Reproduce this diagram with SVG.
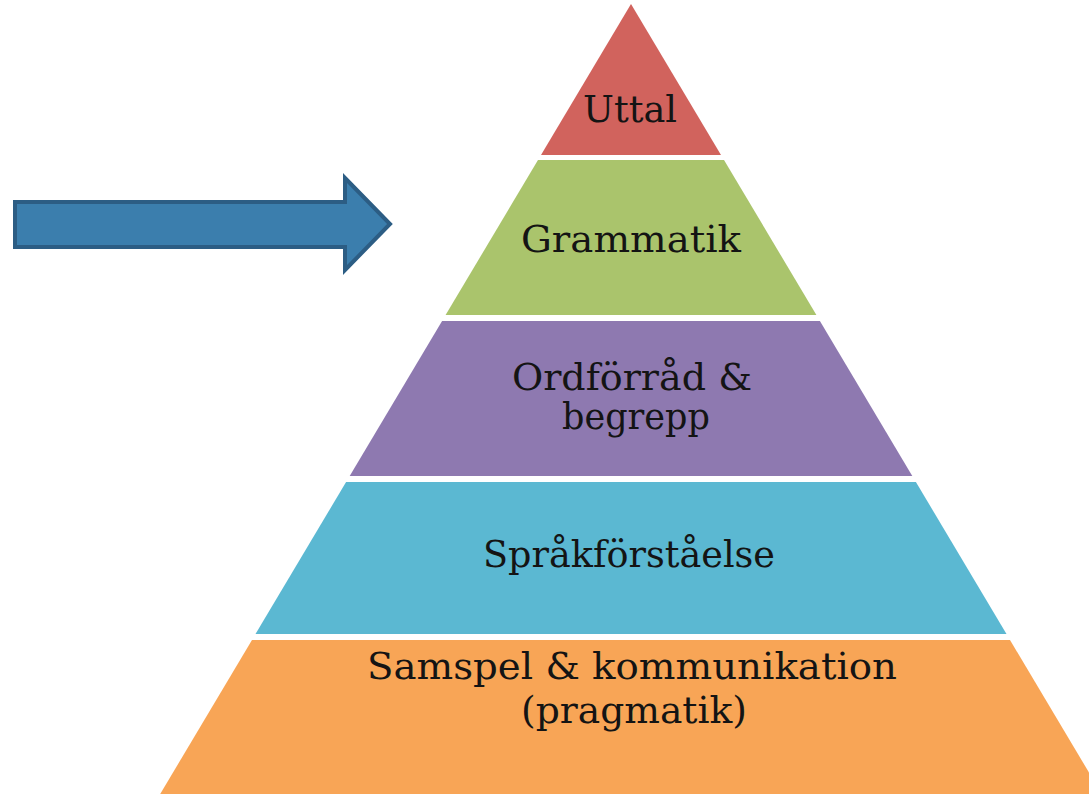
<svg xmlns="http://www.w3.org/2000/svg" width="1089" height="794" viewBox="0 0 1089 794">
<style>
.lbl{font-family:"DejaVu Serif","Liberation Serif",serif;font-size:37px;fill:#141414;text-anchor:middle}
</style>
<rect x="0" y="0" width="1089" height="794" fill="#ffffff"/>
<g id="uttal">
<polygon points="631,4 721,155 541,155" fill="#D1635D"/>
<text class="lbl" x="630" y="122" textLength="94" lengthAdjust="spacingAndGlyphs">Uttal</text>
</g>
<g id="grammatik">
<polygon points="538,160 724,160 816.4,315 445.6,315" fill="#AAC46C"/>
<text class="lbl" x="631" y="252" textLength="220" lengthAdjust="spacingAndGlyphs">Grammatik</text>
</g>
<g id="ordforrad">
<polygon points="442.1,321 819.9,321 912.3,476 349.7,476" fill="#8E79B0"/>
<text class="lbl" x="632" y="390" textLength="240" lengthAdjust="spacingAndGlyphs">Ordförråd &amp;</text>
<text class="lbl" x="636" y="429" textLength="148" lengthAdjust="spacingAndGlyphs">begrepp</text>
</g>
<g id="sprakforstaelse">
<polygon points="346.1,482 915.9,482 1006.5,634 255.5,634" fill="#5BB8D2"/>
<text class="lbl" x="629" y="567" textLength="292" lengthAdjust="spacingAndGlyphs">Språkförståelse</text>
</g>
<g id="samspel">
<polygon points="252,640 1010,640 1101.8,794 160.2,794" fill="#F8A556"/>
<text class="lbl" x="632" y="679" textLength="530" lengthAdjust="spacingAndGlyphs">Samspel &amp; kommunikation</text>
<text class="lbl" x="634" y="723" textLength="226" lengthAdjust="spacingAndGlyphs">(pragmatik)</text>
</g>
<g id="connectors">
<g id="arrow">
<polygon points="15,202 345,202 345,178 390,224 345,270 345,247 15,247" fill="#3B7EAD" stroke="#2C5D84" stroke-width="4" stroke-linejoin="miter"/>
</g>
</g>
</svg>
